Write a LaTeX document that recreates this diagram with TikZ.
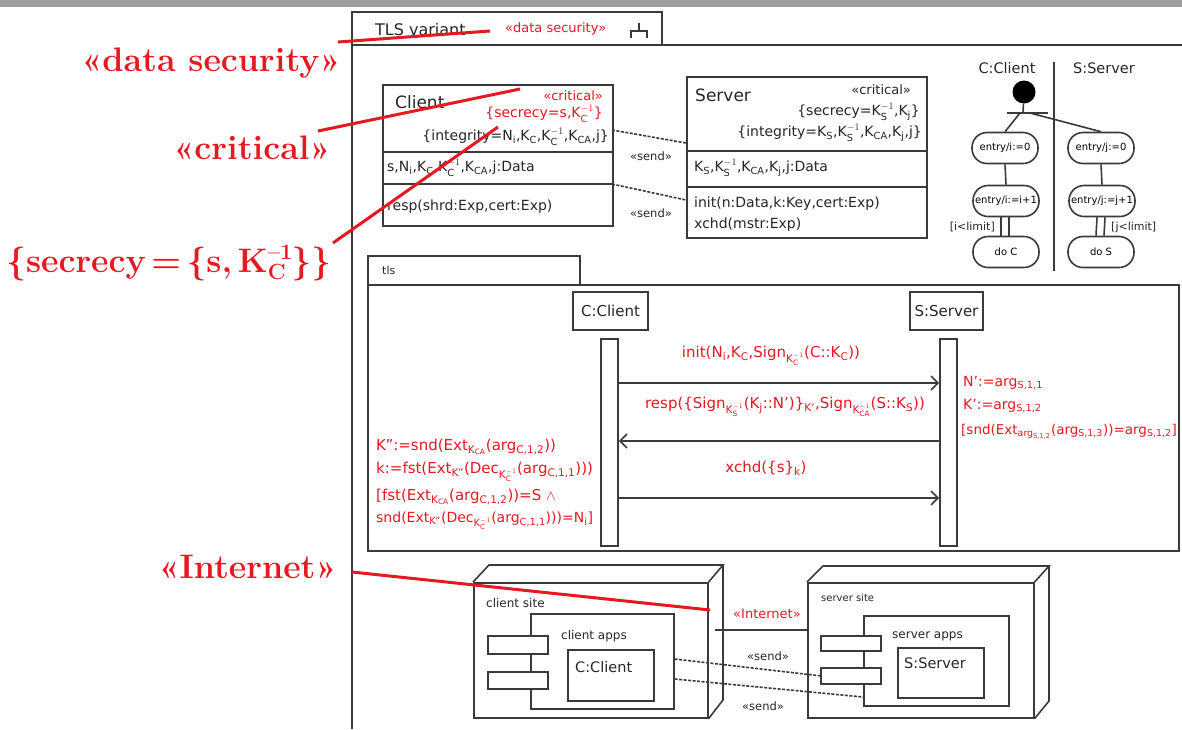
\documentclass[tikz,border=0pt]{standalone}
\usepackage{amsmath}
\usepackage{fontspec}
\setsansfont{DejaVu Sans}
\usetikzlibrary{arrows.meta,positioning}

\definecolor{annored}{RGB}{230,24,32}
\definecolor{frameline}{RGB}{58,58,58}

% sub- and superscripts set in the sans font
\newcommand{\ix}[1]{$_{\textsf{#1}}$}
\newcommand{\inv}[1]{$_{\textsf{#1}}^{-1}$}
% stacked script for the large call-out
\newcommand{\bigscr}[2]{\rlap{\raisebox{0.85ex}{\fontsize{22}{22}\selectfont #2}}\raisebox{-0.45ex}{\fontsize{22}{22}\selectfont #1}\hspace{6pt}}

\begin{document}
\begin{tikzpicture}[x=1pt, y=-1pt,
    ink/.style={draw=frameline, line width=1.6pt},
    classbox/.style={ink, fill=white, inner sep=0pt, anchor=north west},
    lbl/.style={font=\sffamily\fontsize{14}{16}\selectfont, text=black!85, inner sep=1pt},
    msglbl/.style={lbl, font=\sffamily\fontsize{15}{17}\selectfont, text=annored},
    cname/.style={lbl, font=\sffamily\fontsize{17}{19}\selectfont},
    stereo/.style={lbl, font=\sffamily\fontsize{11.5}{13}\selectfont},
    critlbl/.style={lbl, font=\sffamily\fontsize{13}{15}\selectfont},
    smalllbl/.style={lbl, font=\sffamily\fontsize{11}{13}\selectfont},
    sitelbl/.style={lbl, font=\sffamily\fontsize{12}{14}\selectfont},
    headlbl/.style={lbl, font=\sffamily\fontsize{14.5}{16}\selectfont},
    redtxt/.style={text=annored},
    bigred/.style={font=\rmfamily\bfseries\fontsize{34}{40}\selectfont, text=annored, inner sep=0pt},
    annoline/.style={draw=annored, line width=3pt},
    sendline/.style={ink, dash pattern=on 3pt off 1.5pt},
    actstate/.style={ink, rounded corners=15pt, minimum width=66, minimum height=31, inner sep=0pt, font=\sffamily\fontsize{10}{12}\selectfont},
    msg/.style={ink, -{Straight Barb[length=7pt, width=14pt]}},
  ]
  \useasboundingbox (0,0) rectangle (1182,729);
  \fill[black!38] (0,0) rectangle (1182,7);

  % package frame with its tab
  \draw[ink] (352,729) -- (352,12) -- (662,12) -- (662,45);
  \draw[ink] (352,45) -- (1182,45);
  \node[cname, font=\sffamily\fontsize{16}{18}\selectfont, anchor=west] (pkg-name) at (374,30) {TLS variant};
  \node[critlbl, redtxt, anchor=west] (pkg-st) at (504,29) {«data security»};
  \draw[ink] (639,23) -- (639,31) (631,38) -- (631,31) -- (647,31) -- (647,38);

  % class Client
  \node[classbox, minimum width=230, minimum height=141] (client) at (382,84) {};
  \draw[ink] (382,152) -- (612,152) (382,184) -- (612,184);
  \node[cname, anchor=west] (client-name) at (394,102) {Client};
  \node[critlbl, redtxt, anchor=east] (client-crit) at (604,96) {«critical»};
  \node[lbl, redtxt, anchor=east] (client-sec) at (604,114) {\{secrecy=s,K\inv{C}\}};
  \node[lbl, anchor=east] (client-int) at (610,137) {\{integrity=N\ix{i},K\ix{C},K\inv{C},K\ix{CA},j\}};
  \node[lbl, anchor=west] (client-att) at (386,168) {s,N\ix{i},K\ix{C},K\inv{C},K\ix{CA},j:Data};
  \node[lbl, anchor=west] (client-op) at (386,207) {resp(shrd:Exp,cert:Exp)};

  % class Server
  \node[classbox, minimum width=240, minimum height=161] (server) at (686,76) {};
  \draw[ink] (686,151) -- (926,151) (686,187) -- (926,187);
  \node[cname, anchor=west] (server-name) at (694,95) {Server};
  \node[critlbl, anchor=east] (server-crit) at (912,90) {«critical»};
  \node[lbl, anchor=east] (server-sec) at (921,112) {\{secrecy=K\inv{S},K\ix{j}\}};
  \node[lbl, anchor=east] (server-int) at (923,133) {\{integrity=K\ix{S},K\inv{S},K\ix{CA},K\ix{j},j\}};
  \node[lbl, anchor=west] (server-att) at (693,168) {K\ix{S},K\inv{S},K\ix{CA},K\ix{j},j:Data};
  \node[lbl, anchor=west] (server-op1) at (693,204) {init(n:Data,k:Key,cert:Exp)};
  \node[lbl, anchor=west] (server-op2) at (693,225) {xchd(mstr:Exp)};

  % send dependencies between the classes
  \coordinate (dep1-c) at (612,130);
  \coordinate (dep1-s) at (686,143);
  \coordinate (dep2-c) at (612,184);
  \coordinate (dep2-s) at (686,200);
  \draw[sendline] (dep1-c) -- (dep1-s);
  \draw[sendline] (dep2-c) -- (dep2-s);
  \node[stereo] (dep1-lbl) at (651,156) {«send»};
  \node[stereo] (dep2-lbl) at (651,213) {«send»};

  % activity diagram
  \node[headlbl] (act-c) at (1007,68) {C:Client};
  \node[headlbl] (act-s) at (1104,68) {S:Server};
  \draw[ink] (1054,62) -- (1054,271);
  \node[circle, fill=black, minimum size=23, inner sep=0pt] (act-init) at (1024,92) {};
  \coordinate (fork-l) at (1007,113);
  \coordinate (fork-r) at (1048,113);
  \coordinate (fork-in) at (1023,113);
  \coordinate (fork-c) at (1020,113);
  \coordinate (fork-s) at (1030,113);
  \draw[ink] (fork-l) -- (fork-r);
  \draw[ink] (act-init) -- (fork-in);
  \node[actstate] (ci0) at (1005,148) {entry/i:=0};
  \node[actstate] (ci1) at (1006,201) {entry/i:=i+1};
  \node[actstate] (cdo) at (1006,252) {do C};
  \node[actstate] (sj0) at (1101,148) {entry/j:=0};
  \node[actstate] (sj1) at (1102,201) {entry/j:=j+1};
  \node[actstate] (sdo) at (1101,252) {do S};
  \draw[ink] (fork-c) -- (ci0.north);
  \draw[ink] (fork-s) -- (sj0.north);
  \draw[ink] (ci0.south) -- (ci1.north);
  \draw[ink] (sj0.south) -- (sj1.north);
  \draw[ink] ([xshift=-5]ci1.south) -- ([xshift=-5]cdo.north);
  \draw[ink] ([xshift=3]ci1.south) -- ([xshift=3]cdo.north);
  \draw[ink] ([xshift=-5]sj1.south) -- ([xshift=-5]sdo.north);
  \draw[ink] ([xshift=3]sj1.south) -- ([xshift=3]sdo.north);
  \node[smalllbl, anchor=east] (grd-c) at (996,227) {[i<limit]};
  \node[smalllbl, anchor=west] (grd-s) at (1110,227) {[j<limit]};

  % sequence diagram frame
  \node[classbox, minimum width=212, minimum height=29] (seq-tab) at (367,255) {};
  \node[smalllbl, anchor=west] (seq-name) at (381,270) {tls};
  \node[classbox, minimum width=811, minimum height=266] (seq) at (367,284) {};
  \node[ink, headlbl, font=\sffamily\fontsize{15}{17}\selectfont, minimum width=75, minimum height=38, inner sep=0pt] (head-c) at (610.5,311) {C:Client};
  \node[ink, headlbl, font=\sffamily\fontsize{15}{17}\selectfont, minimum width=73, minimum height=38, inner sep=0pt] (head-s) at (946.5,311) {S:Server};
  \node[ink, fill=white, minimum width=17, minimum height=207, inner sep=0pt, anchor=north] (bar-c) at (609.5,338) {};
  \node[ink, fill=white, minimum width=17, minimum height=207, inner sep=0pt, anchor=north] (bar-s) at (948.5,338) {};

  % messages
  \draw[msg] (bar-c.east |- 0,383) -- (bar-s.west |- 0,383);
  \draw[msg] (bar-s.west |- 0,441) -- (bar-c.east |- 0,441);
  \draw[msg] (bar-c.east |- 0,498) -- (bar-s.west |- 0,498);
  \node[msglbl] (m1-lbl) at (771,356) {init(N\ix{i},K\ix{C},Sign\ix{K\inv{C}}(C::K\ix{C}))};
  \node[msglbl] (m2-lbl) at (785,407) {resp(\{Sign\ix{K\inv{S}}(K\ix{j}::N')\}\ix{K'},Sign\ix{K\inv{CA}}(S::K\ix{S}))};
  \node[msglbl] (m3-lbl) at (766,468) {xchd(\{s\}\ix{k})};

  % checks on the client side
  \node[msglbl, anchor=west] (chk-c1) at (375,447) {K'':=snd(Ext\ix{K\ix{CA}}(arg\ix{C,1,2}))};
  \node[msglbl, anchor=west] (chk-c2) at (375,472) {k:=fst(Ext\ix{K''}(Dec\ix{K\inv{C}}(arg\ix{C,1,1})))};
  \node[msglbl, anchor=west] (chk-c3) at (375,497) {[fst(Ext\ix{K\ix{CA}}(arg\ix{C,1,2}))=S $\wedge$};
  \node[lbl, redtxt, anchor=west] (chk-c4) at (375,521) {snd(Ext\ix{K''}(Dec\ix{K\inv{C}}(arg\ix{C,1,1})))=N\ix{i}]};

  % checks on the server side
  \node[lbl, redtxt, anchor=west] (chk-s1) at (962,383) {N':=arg\ix{S,1,1}};
  \node[lbl, redtxt, anchor=west] (chk-s2) at (962,406) {K':=arg\ix{S,1,2}};
  \node[lbl, redtxt, font=\sffamily\fontsize{13.5}{15}\selectfont, anchor=west] (chk-s3) at (960,432) {[snd(Ext\ix{arg\ix{S,1,2}}(arg\ix{S,1,3}))=arg\ix{S,1,2}]};

  % deployment: client site
  \node[classbox, minimum width=234, minimum height=135] (csite) at (473,582) {};
  \draw[ink] (csite.north west) -- ++(16,-17) -- ++(234,0) coordinate (csite-back)
    -- (csite.north east) (csite-back) -- ++(0,135) -- (csite.south east);
  \node[sitelbl, anchor=west] (csite-name) at (485,603) {client site};
  \node[classbox, minimum width=143, minimum height=95] (capps) at (530,613) {};
  \node[classbox, minimum width=60, minimum height=18] (capps-t1) at (487,635) {};
  \node[classbox, minimum width=60, minimum height=17] (capps-t2) at (487,671) {};
  \node[sitelbl, anchor=west] (capps-name) at (560,636) {client apps};
  \node[classbox, minimum width=86, minimum height=51] (cobj) at (567,649) {};
  \node[headlbl, anchor=west] (cobj-name) at (574,667) {C:Client};

  % deployment: server site
  \node[classbox, minimum width=226, minimum height=135] (ssite) at (807,582) {};
  \draw[ink] (ssite.north west) -- ++(16,-16) -- ++(226,0) coordinate (ssite-back)
    -- (ssite.north east) (ssite-back) -- ++(0,135) -- (ssite.south east);
  \node[sitelbl, font=\sffamily\fontsize{10}{12}\selectfont, anchor=west] (ssite-name) at (820,598) {server site};
  \node[classbox, minimum width=145, minimum height=90] (sapps) at (863,615) {};
  \node[classbox, minimum width=60, minimum height=15] (sapps-t1) at (820,635) {};
  \node[classbox, minimum width=60, minimum height=16] (sapps-t2) at (820,667) {};
  \node[sitelbl, anchor=west] (sapps-name) at (891,636) {server apps};
  \node[classbox, minimum width=86, minimum height=50] (sobj) at (897,647) {};
  \node[headlbl, anchor=west] (sobj-name) at (903,663) {S:Server};

  % links between the sites
  \coordinate (net-c) at (715,630);
  \draw[ink] (net-c) -- (ssite.west |- net-c);
  \node[lbl, font=\sffamily\fontsize{13}{15}\selectfont, redtxt] (net-lbl) at (767,614) {«Internet»};
  \draw[sendline] (capps.east |- 0,659) -- (sapps-t2.west);
  \draw[sendline] (capps.east |- 0,679) -- (sapps.west |- 0,697);
  \node[stereo] (snd1-lbl) at (768,656) {«send»};
  \node[stereo] (snd2-lbl) at (763,706) {«send»};

  % red call-outs
  \node[bigred, anchor=east] (big-ds) at (341,63) {«data security»};
  \node[bigred, anchor=east] (big-crit) at (331,148) {«critical»};
  \node[bigred, anchor=east] (big-sec) at (331,263) {\{secrecy\,=\,\{s,\,K\bigscr{C}{--1}\}\}};
  \node[bigred, anchor=east] (big-net) at (337,567) {«Internet»};
  \coordinate (ds-a) at (338,42);
  \coordinate (ds-b) at (490,31);
  \coordinate (crit-a) at (318,131);
  \coordinate (crit-b) at (520,89);
  \coordinate (sec-a) at (333,243);
  \coordinate (sec-b) at (498,127);
  \coordinate (net-a) at (352,572);
  \coordinate (net-b) at (710,610);
  \draw[annoline] (ds-a) -- (ds-b);
  \draw[annoline] (crit-a) -- (crit-b);
  \draw[annoline] (sec-a) -- (sec-b);
  \draw[annoline] (net-a) -- (net-b);
\end{tikzpicture}
\end{document}
